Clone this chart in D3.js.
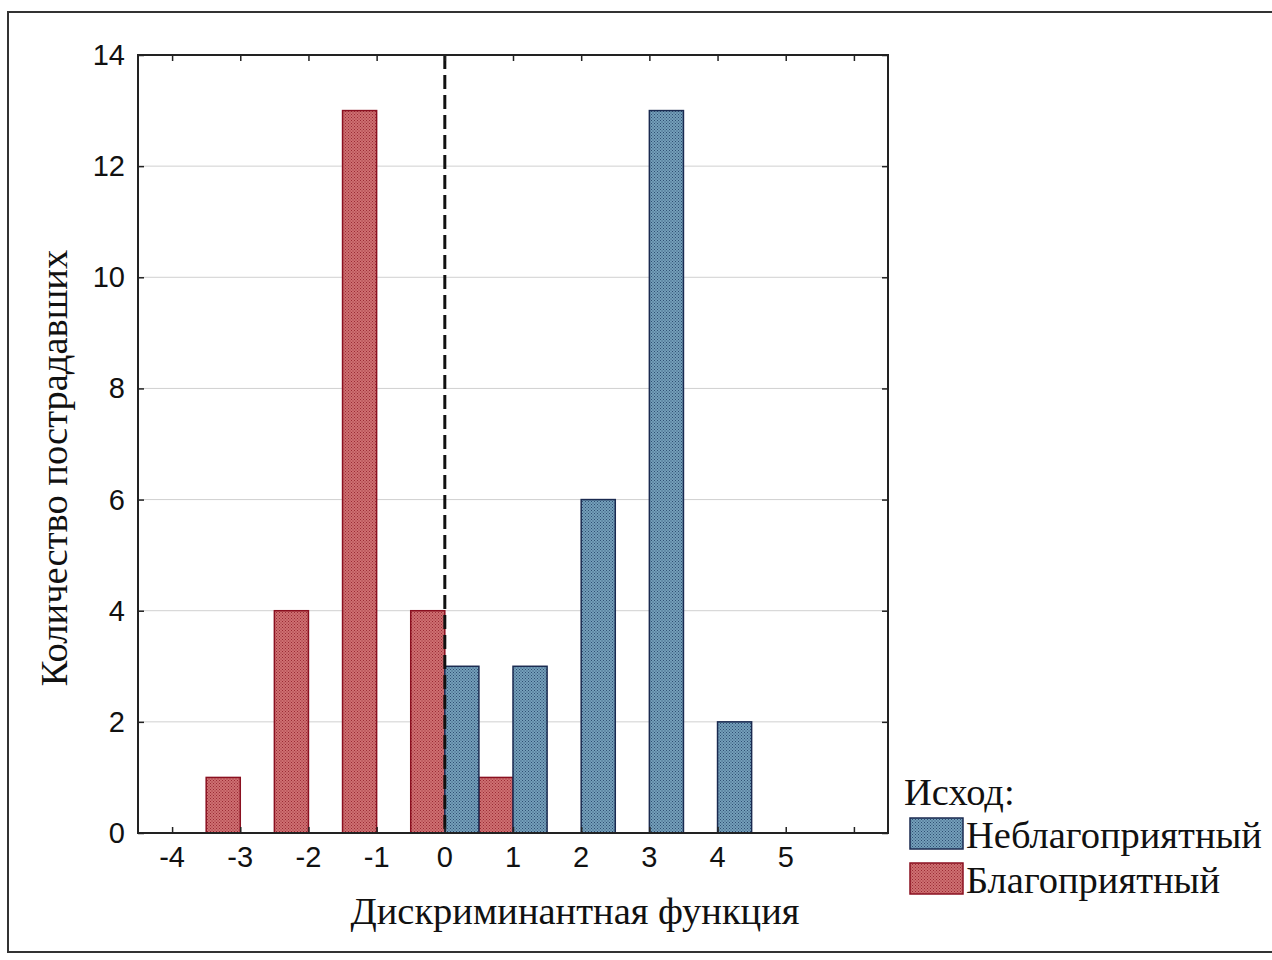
<!DOCTYPE html>
<html><head><meta charset="utf-8">
<script src="https://cdn.jsdelivr.net/npm/d3@7"></script>
<style>body{margin:0;background:#fff}svg{display:block}</style>
</head><body>
<script>
const bins = [-4,-3,-2,-1,0,1,2,3,4,5];
const favorable = [0,1,4,13,4,1,0,0,0,0];      // Благоприятный (red)
const unfavorable = [0,0,0,0,3,3,6,13,2,0];    // Неблагоприятный (blue)
const yTicks = [0,2,4,6,8,10,12,14];
const xTickLabels = [-4,-3,-2,-1,0,1,2,3,4,5];
const xTickMarks = [-4,-3,-2,-1,0,1,2,3,4,5,6];
const seriesNames = ["Неблагоприятный","Благоприятный"];

const W=1272,H=960;
const svg=d3.select("body").append("svg").attr("width",W).attr("height",H);
const defs=svg.append("defs");
function pat(id,base,dark){
  const p=defs.append("pattern").attr("id",id).attr("patternUnits","userSpaceOnUse").attr("width",3).attr("height",3);
  p.append("rect").attr("width",3).attr("height",3).attr("fill",base);
  p.append("rect").attr("x",0).attr("y",0).attr("width",1).attr("height",1).attr("fill",dark);
  p.append("rect").attr("x",1.5).attr("y",1.5).attr("width",1).attr("height",1).attr("fill",dark);
}
pat("pr","#cf7072","#9a2a34");
pat("pb","#74a0ba","#2f4d72");

svg.append("rect").attr("x",8).attr("y",12).attr("width",1300).attr("height",940)
  .attr("fill","none").attr("stroke","#333").attr("stroke-width",2);

const L=138,R=888,T=55,B=833;
const x=d3.scaleLinear().domain([-4.5,6.5]).range([L,R]);
const y=d3.scaleLinear().domain([0,14]).range([B,T]);

// grid
svg.append("g").selectAll("line").data(yTicks.filter(d=>d>0&&d<14)).join("line")
  .attr("x1",L).attr("x2",R).attr("y1",d=>y(d)).attr("y2",d=>y(d))
  .attr("stroke","#d0d0d0").attr("stroke-width",1);

// bars
const red=bins.map((b,i)=>({b,v:favorable[i]})).filter(d=>d.v>0);
const blue=bins.map((b,i)=>({b,v:unfavorable[i]})).filter(d=>d.v>0);
svg.append("g").selectAll("rect").data(red).join("rect")
  .attr("x",d=>x(d.b-0.5)).attr("width",d=>x(d.b)-x(d.b-0.5))
  .attr("y",d=>y(d.v)).attr("height",d=>y(0)-y(d.v))
  .attr("fill","url(#pr)").attr("stroke","#8a1020").attr("stroke-width",1.5);
svg.append("g").selectAll("rect").data(blue).join("rect")
  .attr("x",d=>x(d.b)).attr("width",d=>x(d.b+0.5)-x(d.b))
  .attr("y",d=>y(d.v)).attr("height",d=>y(0)-y(d.v))
  .attr("fill","url(#pb)").attr("stroke","#1a2a50").attr("stroke-width",1.5);

// dashed line at 0
svg.append("line").attr("x1",x(0)).attr("x2",x(0)).attr("y1",T).attr("y2",B)
  .attr("stroke","#111").attr("stroke-width",3).attr("stroke-dasharray","14,6");

// axes with inward ticks
const tk=6;
const axB=d3.axisBottom(x).tickValues(xTickMarks).tickSizeInner(-tk).tickSizeOuter(0).tickFormat("");
const axT=d3.axisTop(x).tickValues(xTickMarks).tickSizeInner(-tk).tickSizeOuter(0).tickFormat("");
const axLf=d3.axisLeft(y).tickValues(yTicks).tickSizeInner(-tk).tickSizeOuter(0).tickFormat("");
const axRt=d3.axisRight(y).tickValues(yTicks).tickSizeInner(-tk).tickSizeOuter(0).tickFormat("");
[[axB,`translate(0,${B})`],[axT,`translate(0,${T})`],[axLf,`translate(${L},0)`],[axRt,`translate(${R},0)`]].forEach(([a,t])=>{
  const g=svg.append("g").attr("transform",t).call(a);
  g.select(".domain").remove();
  g.selectAll("line").attr("stroke","#222").attr("stroke-width",1.5);
});
svg.append("rect").attr("x",L).attr("y",T).attr("width",R-L).attr("height",B-T)
  .attr("fill","none").attr("stroke","#222").attr("stroke-width",2);

// tick labels
svg.append("g").selectAll("text").data(xTickLabels).join("text")
  .attr("x",d=>x(d)).attr("y",867).attr("text-anchor","middle")
  .attr("font-family","Liberation Sans, Arial, sans-serif").attr("font-size",29).attr("fill","#111")
  .text(d=>d<0?"-"+Math.abs(d):d);
svg.append("g").selectAll("text").data(yTicks).join("text")
  .attr("x",125).attr("y",d=>y(d)+10).attr("text-anchor","end")
  .attr("font-family","Liberation Sans, Arial, sans-serif").attr("font-size",29).attr("fill","#111")
  .text(d=>d);

// axis titles
const serif="Liberation Serif, Times New Roman, serif";
svg.append("text").attr("x",575).attr("y",924).attr("text-anchor","middle")
  .attr("font-family",serif).attr("font-size",38.5).attr("fill","#111").text("Дискриминантная функция");
svg.append("text").attr("transform","translate(67,468) rotate(-90)").attr("text-anchor","middle")
  .attr("font-family",serif).attr("font-size",38.5).attr("fill","#111").text("Количество пострадавших");

// legend
svg.append("text").attr("x",904).attr("y",805).attr("font-family",serif).attr("font-size",38.5).attr("fill","#111").text("Исход:");
const legFill=["url(#pb)","url(#pr)"], legStroke=["#1a2a50","#8a1020"];
seriesNames.forEach((n,i)=>{
  const yy=818+i*45;
  svg.append("rect").attr("x",910).attr("y",yy).attr("width",53).attr("height",31)
    .attr("fill",legFill[i]).attr("stroke",legStroke[i]).attr("stroke-width",1.5);
  svg.append("text").attr("x",966).attr("y",yy+30).attr("font-family",serif).attr("font-size",38.5).attr("fill","#111").text(n);
});
</script>
</body></html>
